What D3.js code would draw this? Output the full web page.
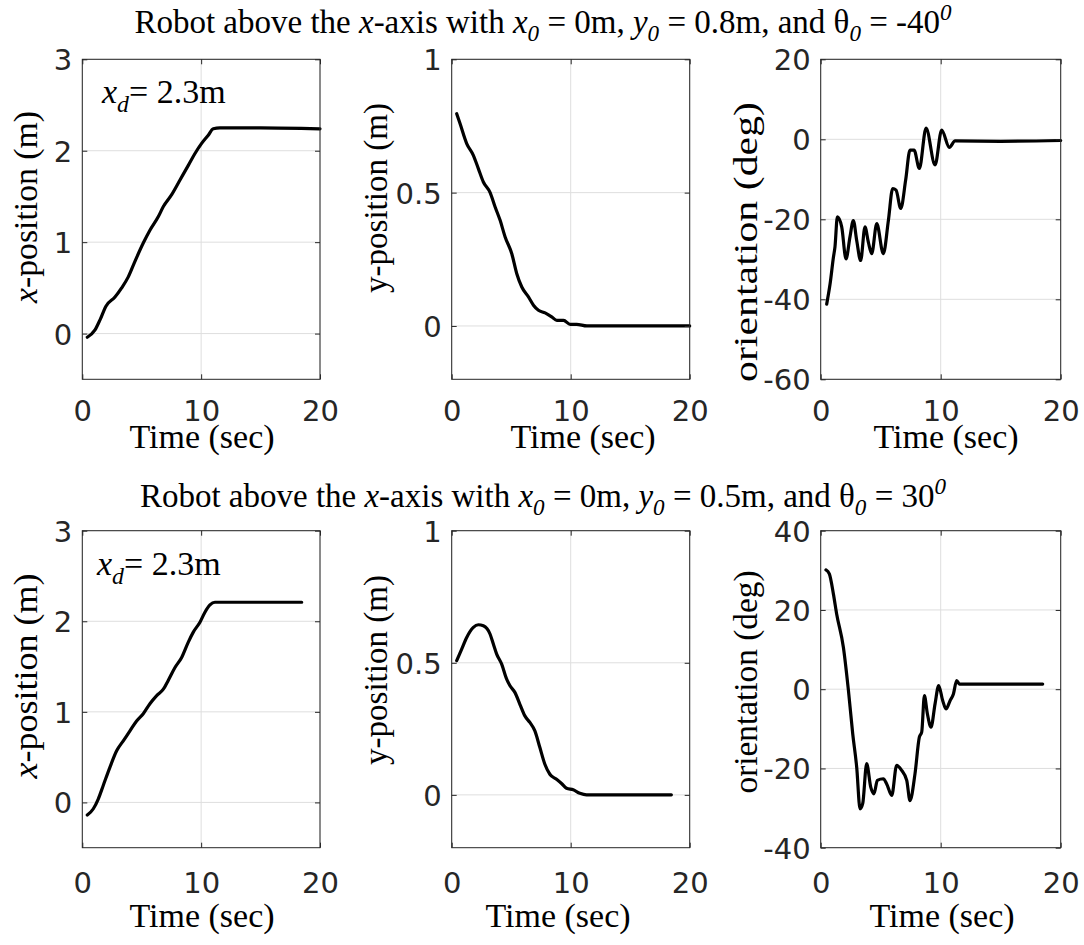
<!DOCTYPE html>
<html>
<head>
<meta charset="utf-8">
<script src="https://cdn.jsdelivr.net/npm/d3@7"></script>
<style>
  body { margin: 0; background: #fff; }
</style>
</head>
<body>
<div id="container"></div>
<script>
// time axis + tick labels shared by all panels
var timeTicks = [0, 10, 20];
var xTicks = [0, 1, 2, 3];
var yTicks = [0, 0.5, 1];
var orientTicks1 = [-60, -40, -20, 0, 20];
var orientTicks2 = [-40, -20, 0, 20, 40];

// case 1 : x0 = 0, y0 = 0.8, theta0 = -40
var time1x = [0.42,1.07,1.49,1.99,2.75,3.31,3.87,4.43,5.13,5.69,6.40,6.82,7.52,8.22,8.92,9.48,10.04,10.6,11.02,11.58,15,20];
var xpos1  = [-0.04,0.04,0.15,0.30,0.40,0.50,0.62,0.79,0.99,1.13,1.28,1.39,1.52,1.68,1.84,1.97,2.08,2.17,2.24,2.25,2.25,2.24];

var time1y = [0.42,0.70,1.26,1.82,2.24,2.66,3.23,3.65,4.07,4.49,5.05,5.47,5.89,6.45,6.87,7.29,7.85,8.41,8.84,9.40,9.96,10.5,11.36,20];
var ypos1  = [0.796,0.759,0.684,0.64,0.59,0.54,0.50,0.446,0.396,0.334,0.271,0.196,0.146,0.109,0.078,0.059,0.049,0.034,0.021,0.021,0.006,0.006,0.0,0.0];

var time1o = [0.5,0.78,1.06,1.19,1.39,1.75,2.11,2.44,2.72,3.0,3.33,3.69,3.97,4.25,4.67,5.22,5.64,6.0,6.28,6.67,7.08,7.44,7.78,8.22,8.78,9.53,10.08,10.72,11.2,15,20];
var orient1 = [-41.2,-36.2,-29.5,-26.9,-19.4,-21.9,-29.9,-24.4,-20.3,-25.3,-30.3,-21.9,-25.7,-28.6,-21.1,-28.6,-20.3,-12.3,-12.7,-17.3,-10.2,-2.7,-2.7,-7.3,2.8,-6.4,2.3,-2.0,-0.4,-0.5,-0.3];

// case 2 : x0 = 0, y0 = 0.5, theta0 = 30
var time2x = [0.42,0.93,1.35,1.77,2.33,2.89,3.45,4.01,4.57,5.13,5.69,6.26,6.82,7.24,7.80,8.36,8.92,9.34,9.90,10.32,10.74,11.16,11.87,18.46];
var xpos2  = [-0.14,-0.07,0.04,0.19,0.39,0.57,0.68,0.79,0.90,0.98,1.09,1.18,1.25,1.35,1.49,1.60,1.77,1.88,1.99,2.10,2.18,2.21,2.21,2.21];

var time2y = [0.42,0.84,1.26,1.82,2.24,2.66,3.22,3.50,3.78,4.20,4.62,4.90,5.31,5.73,6.15,6.57,6.99,7.41,7.83,8.25,8.81,9.23,9.65,10.21,10.77,11.33,18.46];
var ypos2  = [0.508,0.552,0.596,0.634,0.644,0.640,0.609,0.571,0.533,0.495,0.438,0.413,0.388,0.343,0.299,0.274,0.242,0.179,0.116,0.078,0.059,0.043,0.025,0.019,0.006,0,0];

var time2o = [0.44,0.72,1.06,1.33,1.89,2.31,2.67,3.0,3.28,3.5,3.83,4.17,4.44,4.72,5.22,5.5,5.92,6.33,6.75,7.17,7.44,7.86,8.22,8.42,8.64,8.89,9.19,9.53,9.83,10.17,10.44,10.78,11.06,11.33,11.56,18.5];
var orient2 = [30.1,29.1,24.0,19.0,10.6,-0.3,-11.3,-19.7,-30.2,-28.9,-18.8,-24.7,-26.4,-23.0,-22.6,-23.9,-26.8,-19.2,-20.5,-23.0,-28.1,-21.3,-12.1,-10.8,-1.6,-6.2,-9.6,-3.7,0.9,-2.9,-5.0,-2.9,-1.2,2.2,1.3,1.3];

var SANS = "'DejaVu Sans', sans-serif";
var SERIF = "'Liberation Serif', 'Times New Roman', serif";
var AXC = "#262626";

var svg = d3.select("#container")
  .append("svg")
    .attr("width", 1084)
    .attr("height", 945);

// rows / columns of the subplot grid
var rows = [{top: 59.3, h: 320, tickPad: 21, timeY: 448},
            {top: 530.7, h: 317, tickPad: 25, timeY: 927}];
var cols = [{left: 82.3, w: 237.7}, {left: 451.7, w: 238}, {left: 820.7, w: 240}];

// matlab style labels, plain hyphen for minus
function fmt(d) { return String(d); }

// draw a text made of styled pieces (italic, sub, sup)
function richText(g, parts, size) {
  var cur = 0;
  parts.forEach(function (p) {
    var ts = g.append("tspan").text(p.s);
    var shift = 0, fs = size;
    if (p.sub) { shift = 0.25 * size; fs = size * 0.7; }
    if (p.sup) { shift = -0.4 * size; fs = size * 0.7; }
    ts.attr("dy", shift - cur).attr("font-size", fs);
    if (p.it) ts.attr("font-style", "italic");
    cur = shift;
  });
}

function panel(row, col, tt, vv, domain, ticks, label, lab) {
  var R = rows[row], C = cols[col];
  var g = svg.append("g")
    .attr("transform", "translate(" + C.left + "," + R.top + ")");

  var x = d3.scaleLinear().domain([0, 20]).range([0, C.w]);
  var y = d3.scaleLinear().domain(domain).range([R.h, 0]);

  // grid
  var grid = g.append("g").attr("stroke", "#dedede").attr("stroke-width", 1);
  grid.selectAll("line.gx").data(timeTicks).enter().append("line")
    .attr("x1", function (d) { return x(d); }).attr("x2", function (d) { return x(d); })
    .attr("y1", 0).attr("y2", R.h);
  grid.selectAll("line.gy").data(ticks).enter().append("line")
    .attr("y1", function (d) { return y(d); }).attr("y2", function (d) { return y(d); })
    .attr("x1", 0).attr("x2", C.w);

  // the curve
  var line = d3.line()
    .x(function (d) { return x(d[0]); })
    .y(function (d) { return y(d[1]); })
    .curve(d3.curveMonotoneX);
  g.append("path")
    .datum(d3.zip(tt, vv))
    .attr("d", line)
    .attr("fill", "none")
    .attr("stroke", "#000")
    .attr("stroke-width", 3.2)
    .attr("stroke-linejoin", "round")
    .attr("stroke-linecap", "round");

  // axes, ticks pointing inwards on all four sides
  var ax = [
    g.append("g").attr("transform", "translate(0," + R.h + ")")
      .call(d3.axisBottom(x).tickValues(timeTicks).tickSizeInner(-5).tickSizeOuter(0).tickPadding(R.tickPad).tickFormat(fmt)),
    g.append("g")
      .call(d3.axisLeft(y).tickValues(ticks).tickSizeInner(-5).tickSizeOuter(0).tickPadding(10).tickFormat(fmt)),
    g.append("g")
      .call(d3.axisTop(x).tickValues(timeTicks).tickSizeInner(-5).tickSizeOuter(0).tickFormat("")),
    g.append("g").attr("transform", "translate(" + C.w + ",0)")
      .call(d3.axisRight(y).tickValues(ticks).tickSizeInner(-5).tickSizeOuter(0).tickFormat(""))
  ];
  ax.forEach(function (a) {
    a.select(".domain").remove();
    a.selectAll("line").attr("stroke", AXC);
    a.selectAll("text").attr("fill", AXC).style("font-family", SANS).style("font-size", "29px");
  });
  ax[1].selectAll("text").attr("dy", "0.36em");

  g.append("rect")
    .attr("width", C.w).attr("height", R.h)
    .attr("fill", "none").attr("stroke", AXC).attr("stroke-width", 1);

  // y label
  var yl = svg.append("text")
    .attr("transform", "translate(" + lab.x + "," + lab.cy + ") rotate(-90)")
    .attr("text-anchor", "middle")
    .attr("fill", "#000")
    .style("font-family", SERIF)
    .attr("font-size", 33);
  richText(yl, label, 33);
  yl.attr("textLength", lab.len).attr("lengthAdjust", "spacingAndGlyphs");

  // time label
  svg.append("text")
    .attr("x", lab.tx).attr("y", R.timeY)
    .attr("text-anchor", "middle")
    .style("font-family", SERIF)
    .attr("font-size", 34)
    .text("Time (sec)");

  return {x: x, y: y, g: g};
}

var xLab = [{s: "x", it: true}, {s: "-position (m)"}];
var yLab = [{s: "y-position (m)"}];
var oLab = [{s: "orientation (deg)"}];

panel(0, 0, time1x, xpos1, [-0.5, 3], xTicks, xLab, {x: 37, cy: 207, len: 192, tx: 202});
panel(0, 1, time1y, ypos1, [-0.2, 1], yTicks, yLab, {x: 387, cy: 198, len: 190, tx: 583});
panel(0, 2, time1o, orient1, [-60, 20], orientTicks1, oLab, {x: 757, cy: 242, len: 280, tx: 946});
panel(1, 0, time2x, xpos2, [-0.5, 3], xTicks, xLab, {x: 37, cy: 676, len: 205, tx: 202});
panel(1, 1, time2y, ypos2, [-0.2, 1], yTicks, yLab, {x: 387, cy: 670, len: 190, tx: 558});
panel(1, 2, time2o, orient2, [-40, 40], orientTicks2, oLab, {x: 757, cy: 682, len: 223, tx: 942});

// x_d annotations
[[102, 103], [97, 575]].forEach(function (pos) {
  var t = svg.append("text").attr("x", pos[0]).attr("y", pos[1])
    .style("font-family", SERIF).attr("font-size", 34);
  richText(t, [{s: "x", it: true}, {s: "d", it: true, sub: true}, {s: "= 2.3m"}], 34);
});

// titles
function title(yb, y0, th0) {
  var t = svg.append("text").attr("x", 543).attr("y", yb)
    .attr("text-anchor", "middle")
    .style("font-family", SERIF).attr("font-size", 33);
  richText(t, [
    {s: "Robot above the "}, {s: "x", it: true}, {s: "-axis with "},
    {s: "x", it: true}, {s: "0", it: true, sub: true}, {s: " = 0m, "},
    {s: "y", it: true}, {s: "0", it: true, sub: true}, {s: " = " + y0 + "m, and \u03b8"},
    {s: "0", it: true, sub: true}, {s: " = " + th0}, {s: "0", it: true, sup: true}
  ], 33);
}
title(33, "0.8", "-40");
title(507, "0.5", "30");
</script>
</body>
</html>
